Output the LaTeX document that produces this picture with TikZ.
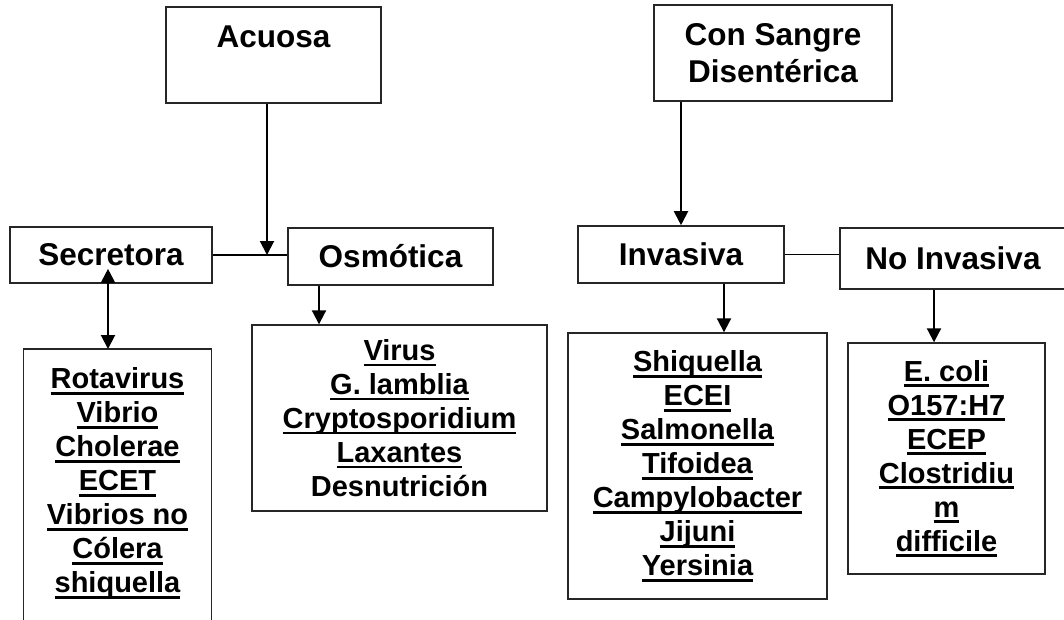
\documentclass[tikz,border=0pt]{standalone}
\usepackage{fontspec}
\setmainfont{Liberation Sans}
\usetikzlibrary{arrows.meta}
\newcommand{\ulin}[1]{\setbox0\hbox{#1}\rlap{\rule[-6pt]{\wd0}{2.6pt}}\box0}
\tikzset{
	headbox/.style={draw=black!85, line width=1.6pt, font=\fontsize{31.5}{37}\selectfont\bfseries, align=center, inner sep=0pt},
	listbox/.style={draw=black!85, line width=1.4pt, font=\fontsize{29}{34}\selectfont\bfseries, align=center, inner sep=0pt},
	boxline/.style={draw=black!85, line width=1.4pt},
	joinline/.style={line width=1.5pt},
	arrowline/.style={line width=2pt, -{Triangle[length=14pt,width=14pt]}},
}
\begin{document}
\begin{tikzpicture}[x=1pt,y=-1pt]
	\useasboundingbox (0,0) rectangle (1064,619);
	\clip (0,0) rectangle (1064,619);
	\fill[white] (0,0) rectangle (1064,619);
	\node[headbox, minimum width=215, minimum height=96] (acuosa) at (273.5,55) {Acuosa\\\mbox{}};
	\node[headbox, minimum width=238, minimum height=96] (sangre) at (773,53) {Con Sangre\\Disentérica};
	\node[headbox, minimum width=202, minimum height=56] (secret) at (111,255) {Secretora};
	\node[headbox, minimum width=205, minimum height=57] (osmo) at (390.5,256.5) {Osmótica};
	\node[headbox, minimum width=206, minimum height=57] (inva) at (681,254.5) {Invasiva};
	\node[headbox, minimum width=226, minimum height=61] (noinv) at (953,258.5) {No Invasiva};
	\node[listbox, draw=none, anchor=north, minimum width=187, inner ysep=18pt] (rota) at (117.5,349) {\ulin{Rotavirus}\\\ulin{Vibrio}\\\ulin{Cholerae}\\\ulin{ECET}\\\ulin{Vibrios no}\\\ulin{Cólera}\\\ulin{shiquella}};
	\draw[boxline] (rota.north west) -- ++(0,300) (rota.north west) -- (rota.north east) -- ++(0,300);
	\node[listbox, minimum width=295, minimum height=186] (virus) at (399.5,418) {\ulin{Virus}\\\ulin{G. lamblia}\\\ulin{Cryptosporidium}\\\ulin{Laxantes}\\Desnutrición};
	\node[listbox, minimum width=259, minimum height=266] (shiq) at (697.5,466) {\ulin{Shiquella}\\\ulin{ECEI}\\\ulin{Salmonella}\\\ulin{Tifoidea}\\\ulin{Campylobacter}\\\ulin{Jijuni}\\\ulin{Yersinia}};
	\node[listbox, minimum width=197, minimum height=231] (ecoli) at (946.5,458.5) {\ulin{E. coli}\\\ulin{O157:H7}\\\ulin{ECEP}\\\ulin{Clostridiu}\\\ulin{m}\\\ulin{difficile}};
	\draw[joinline] (secret.east) -- (osmo.west |- secret.east);
	\draw[joinline] (inva.east) -- (noinv.west |- inva.east);
	\draw[arrowline] ([xshift=-6.5pt]acuosa.south) -- ([xshift=-6.5pt]acuosa.south |- secret.east);
	\draw[arrowline, {Triangle[length=14pt,width=14pt]}-{Triangle[length=14pt,width=14pt]}] ([xshift=-3pt,yshift=15pt]secret.south) -- ([xshift=-3pt]secret.south |- rota.north);
	\draw[arrowline] ([xshift=-71.5pt]osmo.south) -- ([xshift=-71.5pt]osmo.south |- virus.north);
	\draw[arrowline] ([xshift=-92pt]sangre.south) -- (inva.north);
	\draw[arrowline] ([xshift=43pt]inva.south) -- ([xshift=43pt]inva.south |- shiq.north);
	\draw[arrowline] ([xshift=-19pt]noinv.south) -- ([xshift=-19pt]noinv.south |- ecoli.north);
\end{tikzpicture}
\end{document}
